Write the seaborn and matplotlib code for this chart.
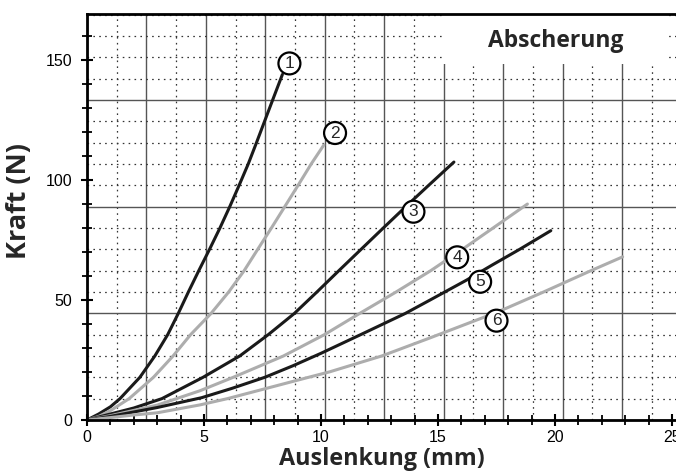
import pandas as pd
import matplotlib
matplotlib.use('Agg')
import matplotlib.pyplot as plt
from matplotlib.ticker import MultipleLocator
from matplotlib.patches import Rectangle
import seaborn as sns

# Kurven: Auslenkung (mm) and Kraft (N)
x1 = [0, 0.5, 1, 1.41, 2.26, 2.9, 3.45, 3.9, 4.33, 4.78, 5.24, 5.68, 6.1, 6.5, 6.89, 7.22, 7.55, 7.9, 8.35]
y1 = [0, 2.5, 5.5, 8.9, 17.8, 26.7, 35.6, 44.4, 53.3, 62.3, 71.2, 80.0, 88.9, 97.8, 106.7, 115.0, 123.5, 132.5, 144.0]

x2 = [0, 0.5, 1, 1.8, 2.84, 3.68, 4.43, 5.3, 6.05, 6.72, 7.3, 7.88, 8.45, 9.02, 9.58, 10.12]
y2 = [0, 1.5, 3.9, 8.9, 17.8, 26.7, 35.6, 44.4, 53.3, 62.3, 71.2, 80.0, 88.9, 97.8, 106.7, 114.6]

x3 = [0, 1, 2, 3.2, 4.96, 6.53, 7.75, 8.86, 9.82, 10.77, 11.72, 12.66, 13.62, 14.6, 15.68]
y3 = [0, 2.5, 5.0, 8.9, 17.8, 26.7, 35.6, 44.4, 53.3, 62.3, 71.2, 80.0, 88.9, 97.8, 107.5]

x4 = [0, 1, 3, 4.83, 6.25, 8.4, 10.15, 11.65, 13.2, 14.7, 16.2, 17.35, 18.82]
y4 = [0, 1.8, 6.2, 12.2, 17.8, 26.7, 35.6, 44.4, 53.3, 62.3, 72.2, 80.0, 90.0]

x5 = [0, 1, 3, 4.9, 6.2, 7.6, 8.8, 10.0, 11.7, 13.6, 14.66, 16.22, 17.3, 18.5, 19.82]
y5 = [0, 1.5, 5.2, 9.3, 13.2, 17.8, 22.6, 27.8, 35.6, 44.4, 50.0, 58.3, 64.5, 71.2, 78.9]

x6 = [0, 1, 2, 3, 4.83, 6.0, 9.47, 10.38, 12.6, 14.6, 16.85, 17.9, 19.5, 21.55, 22.89]
y6 = [0, 1.0, 2.1, 3.0, 6.3, 8.9, 17.8, 20.1, 26.7, 34.0, 42.4, 46.5, 53.3, 62.3, 68.0]

curve_names = ['1', '2', '3', '4', '5', '6']
curve_x = [x1, x2, x3, x4, x5, x6]
curve_y = [y1, y2, y3, y4, y5, y6]

# where the circled numbers sit (data coords)
label_pos = [(8.65, 148.6), (10.6, 119.6), (13.95, 86.8), (15.82, 67.8), (16.8, 57.6), (17.5, 41.4)]

BLACK = '#1a1a1a'
GREY = '#adadad'
palette = {'1': BLACK, '2': GREY, '3': BLACK, '4': GREY, '5': BLACK, '6': GREY}

rows = []
for name, xs, ys in zip(curve_names, curve_x, curve_y):
    for xv, yv in zip(xs, ys):
        rows.append({'Kurve': name, 'Auslenkung': xv, 'Kraft': yv})
df = pd.DataFrame(rows)

sns.set_style('ticks')
plt.rcParams['font.family'] = ['Liberation Sans', 'DejaVu Sans']

fig = plt.figure(figsize=(6.76, 4.74), dpi=100)
pos = [87 / 676, 54 / 474, 589 / 676, 406 / 474]
XMAX, YMAX = 25.17, 169.2

# graph-paper grid on its own axes behind the data
gax = fig.add_axes(pos, zorder=0)
gax.set_xlim(0, XMAX)
gax.set_ylim(0, YMAX)
gax.xaxis.set_major_locator(MultipleLocator(2.54))
gax.xaxis.set_minor_locator(MultipleLocator(1.27))
gax.yaxis.set_major_locator(MultipleLocator(44.45))
gax.yaxis.set_minor_locator(MultipleLocator(8.89))
gax.grid(which='major', color='#555555', lw=1.0, ls='-')
gax.grid(which='minor', color='#333333', lw=0.9, ls=(0, (1.3, 3.4)))
gax.tick_params(which='both', length=0, labelbottom=False, labelleft=False)
for s in gax.spines.values():
    s.set_visible(False)

ax = fig.add_axes(pos, zorder=1)
ax.patch.set_alpha(0)
sns.lineplot(data=df, x='Auslenkung', y='Kraft', hue='Kurve', palette=palette,
             sort=False, estimator=None, legend=False, linewidth=2.2, ax=ax)
ax.set_xlim(0, XMAX)
ax.set_ylim(0, YMAX)

ax.xaxis.set_major_locator(MultipleLocator(5))
ax.xaxis.set_minor_locator(MultipleLocator(1))
ax.yaxis.set_major_locator(MultipleLocator(50))
ax.yaxis.set_minor_locator(MultipleLocator(10))
ax.tick_params(which='major', direction='inout', length=9, width=1.5, colors='black',
               labelsize=11.5, pad=3)
ax.tick_params(which='minor', direction='inout', length=7, width=1.3, colors='black')
ax.tick_params(axis='y', which='major', pad=6)

for side in ['left', 'bottom', 'top']:
    ax.spines[side].set_linewidth(2.0)
    ax.spines[side].set_color('black')
ax.spines['right'].set_visible(False)

ax.set_xlabel('Auslenkung (mm)', family='Open Sans', weight='bold', size=16.8)
ax.set_ylabel('Kraft (N)', family='Open Sans', weight='bold', size=19.5)
ax.xaxis.set_label_coords(0.5, -0.066)
ax.yaxis.set_label_coords(-0.093, 0.54)

# white title field on top of the grid
ax.add_patch(Rectangle((0.604, 0.877), 0.384, 0.13, transform=ax.transAxes,
                       facecolor='white', edgecolor='none', zorder=0.5, clip_on=False))
ax.text(0.795, 0.934, 'Abscherung', transform=ax.transAxes, ha='center', va='center',
        fontsize=16.5, fontweight='bold', family='Open Sans', zorder=3)

for name, (lx, ly) in zip(curve_names, label_pos):
    ax.text(lx, ly, name, ha='center', va='center', fontsize=12.5, zorder=4,
            bbox=dict(boxstyle='circle,pad=0.2', fc='white', ec='black', lw=1.6))

fig.savefig('out.png', dpi=100)
